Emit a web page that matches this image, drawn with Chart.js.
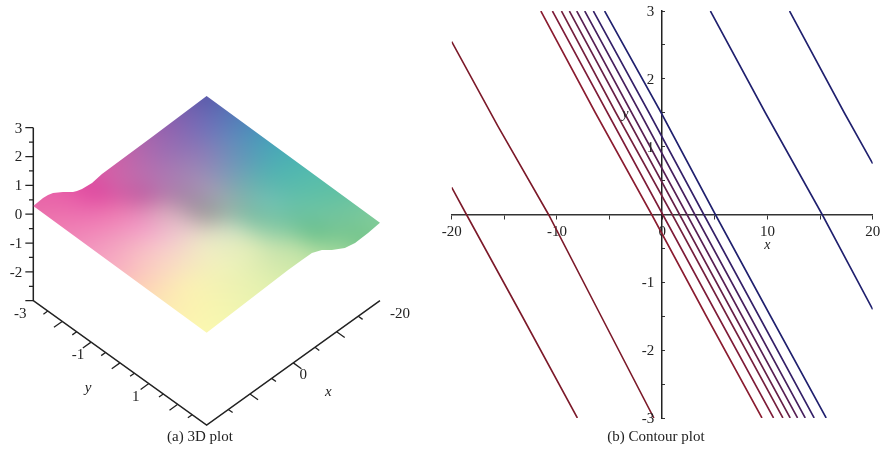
<!DOCTYPE html>
<html>
<head>
<meta charset="utf-8">
<title>3D and contour plot</title>
<script src="https://cdn.jsdelivr.net/npm/chart.js@4/dist/chart.umd.min.js"></script>
<style>
  html, body { margin: 0; padding: 0; background: #fff; }
  canvas { position: absolute; top: 0; filter: blur(0.4px); }
  #plot3d { left: 0; }
  #contour { left: 430px; }
</style>
</head>
<body>
<canvas id="plot3d" width="430" height="454"></canvas>
<canvas id="contour" width="452" height="454"></canvas>
<script>
// surface edges (x, z at y = -3 and y = 3)
const edgeLowX = [20, 17.76, 16.6, 15.45, 14.3, 13.15, 12, 10.84, 9.92, 8.76, 6.45, 4.15, -7.7, -20];
const edgeLowZ = [0.285, 0.32, 0.3, 0.247, 0.14, 0.03, -0.09, -0.22, -0.28, -0.336, -0.38, -0.315, -0.27, -0.21];
const edgeHighX = [-20, -17.25, -14.25, -11.9, -8.9, -6.6, -4.3, -2, 1.2, 20];
const edgeHighZ = [-0.295, -0.357, -0.378, -0.3, -0.045, 0.2, 0.347, 0.35, 0.35, 0.2];

// surface colours, rows go from y=-3 to y=3, columns from x=20 to x=-20
const surfaceColors = [
  ['e86aa9','e860a8','e050a2','d85ca6','c462a8','aa64ac','9260ae','7660ae','5c5cac'],
  ['ee78b0','ea68ac','df4fa2','cc64a8','b86cae','a06eb2','8a6eb4','7070b8','5874b6'],
  ['f088b8','f080b6','e878b0','c466a6','b078b0','a080b4','8a80b8','6888ba','4e8cba'],
  ['f49ec0','f2a0c0','f09cc4','d8a4bc','a88aa8','a094b4','7c98b8','5c9cb8','48a4b8'],
  ['f8b4c0','f8c0c4','f4c4cc','e4c4c8','a6a2a2','94acac','70b0b0','54b2b2','4cb2b2'],
  ['fcd0b8','fad8c0','f6e0c4','ece8c4','cedcc0','84bfa6','70c0b0','5cbcac','56bcac'],
  ['fce6b4','fbeeb4','f4f0b8','ecf0bc','dceab8','98d0a8','70c2a0','68c2a4','60c0a4'],
  ['fcf2b0','f8f4b0','f0f2b2','e6f0b2','d4e8ae','bce0a8','74c490','74c49a','72c69e'],
  ['fbf8b0','f4f6b0','ecf4b0','e2f0ae','d4ecaa','c0e4a4','9cd69a','78c68e','82cc98']
];

const zTicks = [3, 2.5, 2, 1.5, 1, 0.5, 0, -0.5, -1, -1.5, -2, -2.5, -3];
const zLabels = [3, 2, 1, 0, -1, -2];
const yTicks = [-2.5, -2, -1.5, -1, -0.5, 0, 0.5, 1, 1.5, 2, 2.5];
const yLabels = [-3, -1, 1];
const xTicks = [15, 10, 5, 0, -5, -10, -15];
const xLabels = [-20, 0];

// contour lines
const contourY = [3, 1.5, 0, -1.5, -3];
const contourX = [
  [-11.53, -6.35, -1.0, 4.2, 9.48],
  [-10.43, -5.2, 0.05, 5.3, 10.58],
  [-9.57, -4.4, 0.95, 6.2, 11.47],
  [-8.82, -3.6, 1.65, 6.9, 12.16],
  [-8.12, -2.9, 2.35, 7.6, 12.86],
  [-7.36, -2.1, 3.1, 8.35, 13.59],
  [-6.54, -1.25, 3.95, 9.2, 14.44],
  [-5.47, -0.1, 5.05, 10.3, 15.58]
];
const contourColors = ['#8a1c30', '#7e1c38', '#74203e', '#662048', '#582054', '#46205e', '#342068', '#20206e'];
const leftLine1X = [-20, -18.6, -13.3, -8.06];
const leftLine1Y = [0.4, 0, -1.5, -3];
const leftLine2X = [-20, -15.6, -10.8, -5.8, -0.79];
const leftLine2Y = [2.55, 1.3, 0, -1.5, -3];
const rightLine1X = [4.58, 9.8, 15.2, 20];
const rightLine1Y = [3, 1.5, 0, -1.4];
const rightLine2X = [12.1, 17.3, 20];
const rightLine2Y = [3, 1.5, 0.75];
const contourYLabels = [3, 2, 1, -1, -2, -3];

// view of the 3D box
function project(x, y, z) {
  return {
    x: 33.3 + (20 - x) * 4.333 + (y + 3) * 28.89,
    y: 300.7 - (20 - x) * 3.108 + (y + 3) * 20.72 - (z + 3) * 28.83
  };
}

function surfacePattern(ctx) {
  const n = surfaceColors.length;
  const small = document.createElement('canvas');
  small.width = small.height = n + 2;
  const sctx = small.getContext('2d');
  for (let r = 0; r < n + 2; r++) {
    for (let c = 0; c < n + 2; c++) {
      const row = Math.min(n - 1, Math.max(0, r - 1));
      const col = Math.min(n - 1, Math.max(0, c - 1));
      sctx.fillStyle = '#' + surfaceColors[row][col];
      sctx.fillRect(c, r, 1, 1);
    }
  }
  const size = 440;
  const big = document.createElement('canvas');
  big.width = big.height = size;
  const bctx = big.getContext('2d');
  bctx.imageSmoothingEnabled = true;
  bctx.imageSmoothingQuality = 'high';
  bctx.drawImage(small, 0.5, 0.5, n + 1, n + 1, 0, 0, size, size);
  // second pass to soften the steps between table cells
  const soft = document.createElement('canvas');
  soft.width = soft.height = size;
  const softCtx = soft.getContext('2d');
  softCtx.filter = 'blur(7px)';
  softCtx.drawImage(big, 0, 0);

  const step = size / (n + 1);
  const span = step * (n - 1);
  const left = { x: 34.3, y: 206 }, top = { x: 206.7, y: 96 }, bottom = { x: 206.7, y: 332.7 };
  const ax = (top.x - left.x) / span, ay = (top.y - left.y) / span;
  const bx = (bottom.x - left.x) / span, by = (bottom.y - left.y) / span;
  const pattern = ctx.createPattern(soft, 'repeat');
  pattern.setTransform(new DOMMatrix([ax, ay, bx, by, left.x - step * (ax + bx), left.y - step * (ay + by)]));
  return pattern;
}

const gap = { x: NaN, y: NaN };
const outline = [];
edgeLowX.forEach((x, i) => outline.push(project(x, -3, edgeLowZ[i])));
edgeHighX.forEach((x, i) => outline.push(project(x, 3, edgeHighZ[i])));

const axisLines = [
  project(20, -3, 3), project(20, -3, -3), project(20, 3, -3), project(-20, 3, -3)
];
const tickLines = [];
zTicks.forEach((z) => {
  const major = Number.isInteger(z);
  const d = major ? 0.92 : 0.5;
  tickLines.push(project(20, -3, z), project(20 + d, -3 - d * 0.15, z), gap);
});
yTicks.forEach((y) => {
  const d = Number.isInteger(y) ? 1.9 : 1;
  tickLines.push(project(20, y, -3), project(20 + d, y, -3), gap);
});
xTicks.forEach((x) => {
  const d = x % 10 === 0 ? 0.28 : 0.15;
  tickLines.push(project(x, 3, -3), project(x, 3 + d, -3), gap);
});

const serif = '"Liberation Serif", serif';

const labels3d = {
  id: 'labels3d',
  afterDraw(chart) {
    const { ctx, scales } = chart;
    const put = (text, p, dx, dy, font, align) => {
      ctx.font = font;
      ctx.textAlign = align || 'center';
      ctx.textBaseline = 'middle';
      ctx.fillStyle = '#222';
      ctx.fillText(text, scales.x.getPixelForValue(p.x) + dx, scales.y.getPixelForValue(p.y) + dy);
    };
    ctx.save();
    const tickFont = '15px ' + serif;
    zLabels.forEach((z) => put(String(z), project(20, -3, z), -11, 1, tickFont, 'right'));
    yLabels.forEach((y) => put(String(y), project(20, y, -3), -13, 13, tickFont));
    xLabels.forEach((x) => put(String(x), project(x, 3, -3), x === 0 ? 10 : 20, x === 0 ? 12 : 13, tickFont));
    put('y', project(20, 0, -3), -32, 25, 'italic 15px ' + serif);
    put('x', project(0, 3, -3), 35, 29, 'italic 15px ' + serif);
    put('(a) 3D plot', { x: 200, y: 437 }, 0, 0, '15px ' + serif);
    ctx.restore();
  }
};

const ctx3d = document.getElementById('plot3d').getContext('2d');
new Chart(ctx3d, {
  type: 'scatter',
  data: {
    datasets: [
      { data: outline, showLine: true, fill: 'shape', backgroundColor: surfacePattern(ctx3d), borderWidth: 0, pointRadius: 0 },
      { data: axisLines, showLine: true, borderColor: '#222', borderWidth: 1.5, pointRadius: 0 },
      { data: tickLines, showLine: true, spanGaps: false, borderColor: '#222', borderWidth: 1.3, pointRadius: 0 }
    ]
  },
  options: {
    responsive: false,
    animation: false,
    layout: { padding: 0 },
    plugins: { legend: { display: false }, tooltip: { enabled: false } },
    scales: {
      x: { type: 'linear', display: false, min: 0, max: 430 },
      y: { type: 'linear', display: false, min: 0, max: 454, reverse: true }
    }
  },
  plugins: [labels3d]
});

const contourSets = [];
function addLine(xs, ys, color) {
  contourSets.push({
    data: xs.map((x, i) => ({ x: x, y: ys[i] })),
    showLine: true,
    borderColor: color,
    borderWidth: 1.6,
    pointRadius: 0
  });
}
addLine(leftLine1X, leftLine1Y, '#7c1a2a');
addLine(leftLine2X, leftLine2Y, '#7c1a2a');
contourX.forEach((xs, i) => addLine(xs, contourY, contourColors[i]));
addLine(rightLine1X, rightLine1Y, '#20206e');
addLine(rightLine2X, rightLine2Y, '#20206e');

const labelsContour = {
  id: 'labelsContour',
  afterDraw(chart) {
    const { ctx, scales } = chart;
    ctx.save();
    ctx.fillStyle = '#222';
    ctx.textBaseline = 'middle';
    // the library puts y labels on top of a centred axis, so they are placed here
    ctx.font = '15px ' + serif;
    ctx.textAlign = 'right';
    contourYLabels.forEach((v) => {
      ctx.fillText(String(v), scales.x.getPixelForValue(0) - 8, scales.y.getPixelForValue(v) + 1);
    });
    ctx.textAlign = 'center';
    ctx.font = 'italic 14px ' + serif;
    ctx.fillText('x', scales.x.getPixelForValue(10), scales.y.getPixelForValue(-0.46));
    ctx.fillText('y', scales.x.getPixelForValue(-3.5), scales.y.getPixelForValue(1.47));
    ctx.font = '15px ' + serif;
    ctx.fillText('(b) Contour plot', scales.x.getPixelForValue(-0.6), 437);
    ctx.restore();
  }
};

new Chart(document.getElementById('contour'), {
  type: 'scatter',
  data: { datasets: contourSets },
  options: {
    responsive: false,
    animation: false,
    layout: { padding: { left: 21.7, right: 9.3, top: 11, bottom: 36 } },
    plugins: { legend: { display: false }, tooltip: { enabled: false } },
    scales: {
      x: {
        type: 'linear',
        position: { y: 0 },
        min: -20,
        max: 20,
        border: { color: '#333', width: 1.5 },
        grid: { drawOnChartArea: false, color: '#333', tickLength: 4 },
        // tick padding would otherwise pull the right end of the axis in
        afterFit: (scale) => { scale.paddingRight = 0; },
        ticks: {
          stepSize: 5,
          autoSkip: false,
          maxRotation: 0,
          padding: 5,
          color: '#222',
          font: { family: serif, size: 15 },
          callback: (v) => (v % 10 === 0 ? String(v) : '')
        }
      },
      y: {
        type: 'linear',
        position: { x: 0 },
        min: -3,
        max: 3,
        border: { color: '#222', width: 1.5 },
        // negative length puts the ticks left of the centred axis
        grid: { drawOnChartArea: false, color: '#333', tickLength: -4 },
        ticks: { stepSize: 0.5, autoSkip: false, display: false }
      }
    }
  },
  plugins: [labelsContour]
});
</script>
</body>
</html>
